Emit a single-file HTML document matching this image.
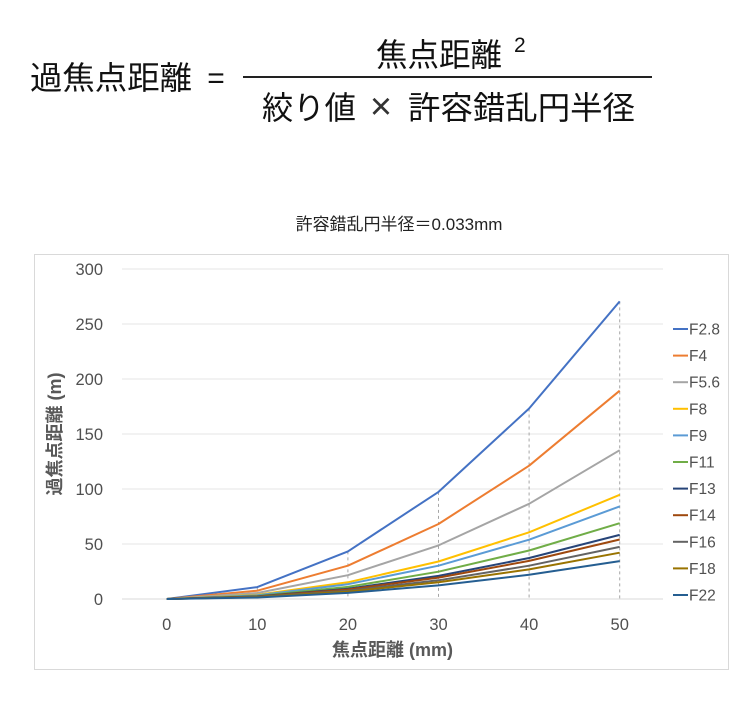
<!DOCTYPE html>
<html><head><meta charset="utf-8">
<style>
html,body{margin:0;padding:0;background:#fff;}
svg{display:block;}
text{font-family:"Liberation Sans","Noto Sans CJK JP",sans-serif;}
</style></head>
<body>
<svg width="752" height="713" viewBox="0 0 752 713" xmlns="http://www.w3.org/2000/svg">
<rect x="0" y="0" width="752" height="713" fill="#fff"/>
<!-- Formula -->
<g fill="#111">
<text x="30" y="89" font-size="32" textLength="162" lengthAdjust="spacingAndGlyphs">過焦点距離</text>
<text x="216" y="88" font-size="30" text-anchor="middle">=</text>
<rect x="243" y="76" width="409" height="2" fill="#222"/>
<text x="376" y="66" font-size="32" textLength="126" lengthAdjust="spacingAndGlyphs">焦点距離</text>
<text x="514" y="52" font-size="21">2</text>
<text x="262" y="119" font-size="32" textLength="94" lengthAdjust="spacingAndGlyphs">絞り値</text>
<text x="381" y="119" font-size="38" text-anchor="middle" fill="#333">×</text>
<text x="408" y="119" font-size="32" textLength="227" lengthAdjust="spacingAndGlyphs">許容錯乱円半径</text>
</g>
<!-- Chart title -->
<text x="399" y="230" font-size="17" text-anchor="middle" fill="#222">許容錯乱円半径＝0.033mm</text>
<!-- Chart border -->
<rect x="34.5" y="254.5" width="694" height="415" fill="#fff" stroke="#d9d9d9" stroke-width="1"/>
<!-- Gridlines -->
<g stroke="#e6e6e6" stroke-width="1">
<line x1="122" y1="269" x2="663" y2="269"/>
<line x1="122" y1="324" x2="663" y2="324"/>
<line x1="122" y1="379" x2="663" y2="379"/>
<line x1="122" y1="434" x2="663" y2="434"/>
<line x1="122" y1="489" x2="663" y2="489"/>
<line x1="122" y1="544" x2="663" y2="544"/>
</g>
<line x1="122" y1="599" x2="663" y2="599" stroke="#d9d9d9" stroke-width="1"/>
<!-- Y tick labels -->
<g font-size="16.5" fill="#505050" text-anchor="end">
<text x="103" y="275">300</text>
<text x="103" y="330">250</text>
<text x="103" y="385">200</text>
<text x="103" y="440">150</text>
<text x="103" y="495">100</text>
<text x="103" y="550">50</text>
<text x="103" y="605">0</text>
</g>
<!-- X tick labels -->
<g font-size="16.5" fill="#505050" text-anchor="middle">
<text x="166.7" y="630">0</text>
<text x="257.3" y="630">10</text>
<text x="347.9" y="630">20</text>
<text x="438.5" y="630">30</text>
<text x="529.1" y="630">40</text>
<text x="619.7" y="630">50</text>
</g>
<!-- Axis titles -->
<text x="392.5" y="656" font-size="18" font-weight="bold" fill="#595959" text-anchor="middle">焦点距離 (mm)</text>
<text transform="translate(61,434) rotate(-90)" x="0" y="0" font-size="18" font-weight="bold" fill="#595959" text-anchor="middle">過焦点距離 (m)</text>
<!-- Drop lines -->
<g stroke="#a6a6a6" stroke-width="1" stroke-dasharray="3,3">
<line x1="257.3" y1="587.1" x2="257.3" y2="599"/>
<line x1="347.9" y1="551.4" x2="347.9" y2="599"/>
<line x1="438.5" y1="491.9" x2="438.5" y2="599"/>
<line x1="529.1" y1="408.5" x2="529.1" y2="599"/>
<line x1="619.7" y1="301.4" x2="619.7" y2="599"/>
</g>
<!-- Series -->
<g fill="none" stroke-width="2" stroke-linejoin="round">
<polyline stroke="#4472C4" points="166.7,599 257.3,587.1 347.9,551.4 438.5,491.9 529.1,408.5 619.7,301.4"/>
<polyline stroke="#ED7D31" points="166.7,599 257.3,590.7 347.9,565.7 438.5,524 529.1,465.7 619.7,390.7"/>
<polyline stroke="#A5A5A5" points="166.7,599 257.3,593.0 347.9,575.2 438.5,545.4 529.1,503.8 619.7,450.2"/>
<polyline stroke="#FFC000" points="166.7,599 257.3,594.8 347.9,582.3 438.5,561.5 529.1,532.3 619.7,494.8"/>
<polyline stroke="#5B9BD5" points="166.7,599 257.3,595.3 347.9,584.2 438.5,565.7 529.1,539.7 619.7,506.4"/>
<polyline stroke="#70AD47" points="166.7,599 257.3,596.0 347.9,586.9 438.5,571.7 529.1,550.5 619.7,523.2"/>
<polyline stroke="#264478" points="166.7,599 257.3,596.4 347.9,588.7 438.5,575.9 529.1,558.0 619.7,534.9"/>
<polyline stroke="#9E480E" points="166.7,599 257.3,596.6 347.9,589.5 438.5,577.6 529.1,560.9 619.7,539.5"/>
<polyline stroke="#636363" points="166.7,599 257.3,596.9 347.9,590.7 438.5,580.3 529.1,565.7 619.7,546.9"/>
<polyline stroke="#997300" points="166.7,599 257.3,597.1 347.9,591.6 438.5,582.3 529.1,569.4 619.7,552.7"/>
<polyline stroke="#255E91" points="166.7,599 257.3,597.5 347.9,592.9 438.5,585.4 529.1,574.8 619.7,561.1"/>
</g>
<!-- Legend -->
<g stroke-width="2">
<line x1="673" y1="329" x2="688" y2="329" stroke="#4472C4"/>
<line x1="673" y1="355.6" x2="688" y2="355.6" stroke="#ED7D31"/>
<line x1="673" y1="382.2" x2="688" y2="382.2" stroke="#A5A5A5"/>
<line x1="673" y1="408.8" x2="688" y2="408.8" stroke="#FFC000"/>
<line x1="673" y1="435.4" x2="688" y2="435.4" stroke="#5B9BD5"/>
<line x1="673" y1="462" x2="688" y2="462" stroke="#70AD47"/>
<line x1="673" y1="488.6" x2="688" y2="488.6" stroke="#264478"/>
<line x1="673" y1="515.2" x2="688" y2="515.2" stroke="#9E480E"/>
<line x1="673" y1="541.8" x2="688" y2="541.8" stroke="#636363"/>
<line x1="673" y1="568.4" x2="688" y2="568.4" stroke="#997300"/>
<line x1="673" y1="595" x2="688" y2="595" stroke="#255E91"/>
</g>
<g font-size="15.5" fill="#505050">
<text x="689" y="334.5">F2.8</text>
<text x="689" y="361.1">F4</text>
<text x="689" y="387.7">F5.6</text>
<text x="689" y="414.3">F8</text>
<text x="689" y="440.9">F9</text>
<text x="689" y="467.5">F11</text>
<text x="689" y="494.1">F13</text>
<text x="689" y="520.7">F14</text>
<text x="689" y="547.3">F16</text>
<text x="689" y="573.9">F18</text>
<text x="689" y="600.5">F22</text>
</g>
</svg>
</body></html>
